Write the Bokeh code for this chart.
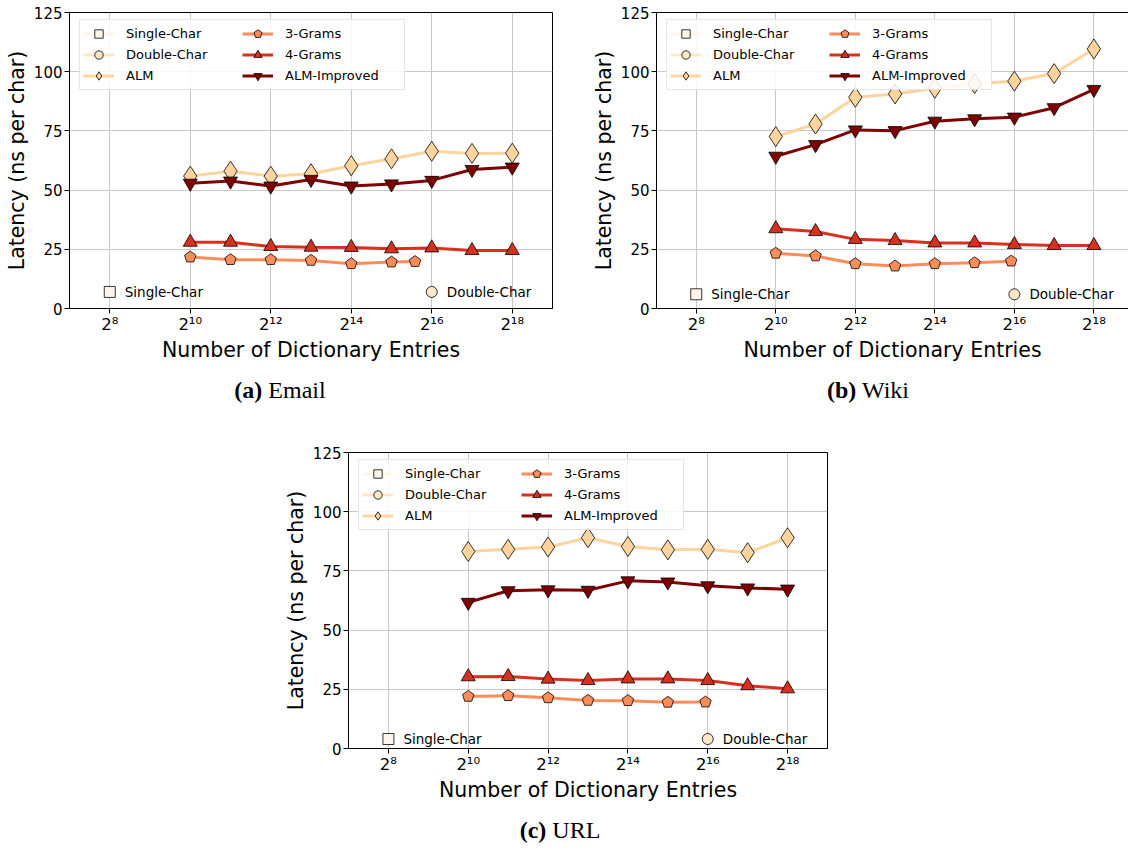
import math
from bokeh.plotting import figure
from bokeh.models import (ColumnDataSource, Range1d, FixedTicker, Legend, LegendItem,
                          LogAxis, Div, Spacer)
from bokeh.layouts import row, column
from bokeh.embed import file_html
from bokeh.resources import INLINE
from bokeh.core.properties import value

# ---------------------------------------------------------------- data
series_names = ["Single-Char", "Double-Char", "ALM", "3-Grams", "4-Grams", "ALM-Improved"]

entries = [1024, 2048, 4096, 8192, 16384, 32768, 65536, 131072, 262144]
single_char_entries = [256]
double_char_entries = [65536]

x_ticks = [256, 1024, 4096, 16384, 65536, 262144]
x_tick_labels = ["2\u2078", "2\u00b9\u2070", "2\u00b9\u00b2", "2\u00b9\u2074", "2\u00b9\u2076", "2\u00b9\u2078"]
y_ticks = [0, 25, 50, 75, 100, 125]

# Email
email_single = [7.0]
email_double = [7.0]
email_alm = [55.9, 58.0, 55.9, 56.9, 60.3, 63.2, 66.4, 65.5, 65.6]
email_alm_improved = [52.9, 53.8, 51.7, 54.5, 51.7, 52.6, 54.1, 58.7, 59.7]
email_4grams = [28.0, 28.0, 26.2, 25.9, 25.8, 25.2, 25.6, 24.5, 24.5]
email_3gram_entries = [1024, 2048, 4096, 8192, 16384, 32768, 49152]
email_3grams = [21.7, 20.6, 20.6, 20.3, 18.9, 19.6, 19.8]

# Wiki
wiki_single = [6.0]
wiki_double = [6.0]
wiki_alm = [72.6, 77.9, 89.2, 90.6, 93.0, 95.0, 96.0, 99.2, 109.6]
wiki_alm_improved = [64.3, 69.2, 75.4, 75.1, 79.1, 80.1, 80.8, 84.8, 92.5]
wiki_4grams = [33.7, 32.5, 29.2, 28.7, 27.7, 27.7, 27.0, 26.6, 26.6]
wiki_3gram_entries = [1024, 2048, 4096, 8192, 16384, 32768, 62000]
wiki_3grams = [23.3, 22.2, 18.9, 17.9, 18.9, 19.3, 20.0]

# URL
url_single = [4.0]
url_double = [4.0]
url_alm = [83.2, 84.1, 85.1, 89.0, 85.3, 83.9, 84.1, 82.7, 89.0]
url_alm_improved = [61.7, 66.6, 67.0, 66.8, 70.8, 70.3, 68.7, 67.8, 67.3]
url_4grams = [30.3, 30.4, 29.3, 28.7, 29.4, 29.4, 28.7, 26.5, 25.2]
url_3gram_entries = [1024, 2048, 4096, 8192, 16384, 32768, 63000]
url_3grams = [22.0, 22.3, 21.4, 20.3, 20.2, 19.5, 19.6]

# ---------------------------------------------------------------- styling
COLORS = {
    "Single-Char": "#fff5eb",
    "Double-Char": "#fee6c6",
    "ALM": "#fdd49e",
    "3-Grams": "#fc8d59",
    "4-Grams": "#d7301f",
    "ALM-Improved": "#7f0000",
}
MARKERS = {
    "Single-Char": ("square", 11),
    "Double-Char": ("circle", 11),
    "ALM": ("diamond", 20),
    "3-Grams": ("pentagon", 12),
    "4-Grams": ("triangle", 14),
    "ALM-Improved": ("inverted_triangle", 14),
}
FONT = "DejaVu Sans"


def add_series(p, xs, ys, name):
    src = ColumnDataSource(dict(x=xs, y=ys))
    color = COLORS[name]
    marker, size = MARKERS[name]
    line = p.line("x", "y", source=src, line_color=color, line_width=3)
    if marker == "pentagon":
        try:
            mark = p.ngon("x", "y", source=src, radius=size / 2, radius_units="screen",
                          n=5, angle=0, fill_color=color, line_color="black", line_width=0.8)
        except Exception:
            mark = p.scatter("x", "y", source=src, marker="hex", size=size,
                             fill_color=color, line_color="black", line_width=0.8)
    else:
        mark = p.scatter("x", "y", source=src, marker=marker, size=size,
                         fill_color=color, line_color="black", line_width=0.8)
    return [line, mark]


def style_axis(ax, label, tick_size):
    ax.axis_label = label
    ax.major_label_text_font = FONT
    ax.major_label_text_font_size = tick_size
    ax.major_label_text_color = "black"
    ax.axis_label_text_font = FONT
    ax.axis_label_text_font_size = "20.5px"
    ax.axis_label_text_font_style = "normal"
    ax.axis_label_text_color = "black"
    ax.major_tick_in = 0
    ax.major_tick_out = 5
    ax.minor_tick_line_color = None
    ax.axis_line_color = "black"
    ax.major_tick_line_color = "black"
    ax.major_label_standoff = 2
    ax.axis_label_standoff = 2


def make_panel(ds, width, height, bl, br, bt, bb, x_end, open_right=False):
    p = figure(width=width, height=height, x_axis_type="log",
               x_range=Range1d(2 ** 7, x_end), y_range=Range1d(0, 125),
               output_backend="svg", toolbar_location=None, title=None,
               min_border_left=bl, min_border_right=br,
               min_border_top=bt, min_border_bottom=bb)
    p.background_fill_color = "white"
    p.border_fill_color = "white"

    x_axis = p.below[0]
    y_axis = p.left[0]
    x_ticker = FixedTicker(ticks=x_ticks)
    y_ticker = FixedTicker(ticks=y_ticks)
    x_axis.ticker = x_ticker
    y_axis.ticker = y_ticker
    p.xgrid.ticker = x_ticker
    p.ygrid.ticker = y_ticker
    x_axis.major_label_overrides = dict(zip(x_ticks, x_tick_labels))
    style_axis(x_axis, "Number of Dictionary Entries", "16.5px")
    style_axis(y_axis, "Latency (ns per char)", "15px")
    x_axis.major_label_standoff = 1
    x_axis.axis_label_standoff = 1
    for g in (p.xgrid[0], p.ygrid[0]):
        g.grid_line_color = "#c8c8c8"
        g.grid_line_width = 1

    if open_right:
        # frame runs off the right edge: draw only the top edge of the box
        p.outline_line_color = None
        top = LogAxis(ticker=FixedTicker(ticks=[]), major_tick_out=0, major_tick_in=0,
                      major_label_standoff=0, major_label_text_font_size="0px",
                      minor_tick_line_color=None, axis_line_color="black")
        p.add_layout(top, "above")
    else:
        p.outline_line_color = "black"
        p.outline_line_alpha = 1.0
        p.outline_line_width = 1

    items = []
    items.append(LegendItem(label="Single-Char",
                            renderers=add_series(p, single_char_entries, ds["single"], "Single-Char")))
    items.append(LegendItem(label="Double-Char",
                            renderers=add_series(p, double_char_entries, ds["double"], "Double-Char")))
    items.append(LegendItem(label="ALM", renderers=add_series(p, entries, ds["alm"], "ALM")))
    items.append(LegendItem(label="3-Grams",
                            renderers=add_series(p, ds["g3x"], ds["g3"], "3-Grams")))
    items.append(LegendItem(label="4-Grams", renderers=add_series(p, entries, ds["g4"], "4-Grams")))
    items.append(LegendItem(label="ALM-Improved",
                            renderers=add_series(p, entries, ds["almi"], "ALM-Improved")))

    # in-plot notes beside the single-point series
    notes = ColumnDataSource(dict(x=single_char_entries + double_char_entries,
                                  y=ds["single"] + ds["double"],
                                  t=["Single-Char", "Double-Char"]))
    p.text("x", "y", text="t", source=notes, x_offset=15, text_align="left",
           text_baseline="middle", text_font=value(FONT), text_font_size="13.5px",
           text_color="black")

    legend = Legend(items=items, location=(10, 218), ncols=2, orientation="vertical",
                    label_text_font=FONT, label_text_font_size="13px",
                    label_text_color="black", glyph_width=31, glyph_height=21,
                    spacing=0, padding=3, margin=0, label_standoff=12, label_width=116,
                    border_line_color="#cccccc", border_line_width=1,
                    background_fill_color="white", background_fill_alpha=0.85)
    p.add_layout(legend)
    return p


def caption(tag, name, width, height, pad_top, pad_left=0):
    inner = width - pad_left
    html = ('<div style="font-family: \'Liberation Serif\', serif; font-size: 24px; '
            'line-height: 28px; color: black; text-align: center; display: block; '
            f'width: {inner}px; margin-left: {pad_left}px; padding-top: {pad_top}px;">'
            f'<b>{tag}</b> {name}</div>')
    return Div(text=html, width=width, height=height, margin=(0, 0, 0, 0))


email = dict(single=email_single, double=email_double, alm=email_alm, almi=email_alm_improved,
             g4=email_4grams, g3x=email_3gram_entries, g3=email_3grams)
wiki = dict(single=wiki_single, double=wiki_double, alm=wiki_alm, almi=wiki_alm_improved,
            g4=wiki_4grams, g3x=wiki_3gram_entries, g3=wiki_3grams)
url = dict(single=url_single, double=url_double, alm=url_alm, almi=url_alm_improved,
           g4=url_4grams, g3x=url_3gram_entries, g3=url_3grams)

p_email = make_panel(email, 560, 368, 69, 8, 12, 60, 2 ** 19)
p_wiki = make_panel(wiki, 568, 368, 96, 0, 12, 60, 2 ** 18.87, open_right=True)
p_url = make_panel(url, 560, 384, 67, 13, 32, 56, 2 ** 19)

top_row = row(column(p_email, caption("(a)", "Email", 560, 52, 8)),
              column(p_wiki, caption("(b)", "Wiki", 568, 52, 8, 48)))
bottom_row = row(Spacer(width=280, height=428, margin=(0, 0, 0, 0)),
                 column(p_url, caption("(c)", "URL", 560, 44, 12)))
layout = column(top_row, bottom_row)

open("out.html", "w").write(file_html(layout, INLINE))
